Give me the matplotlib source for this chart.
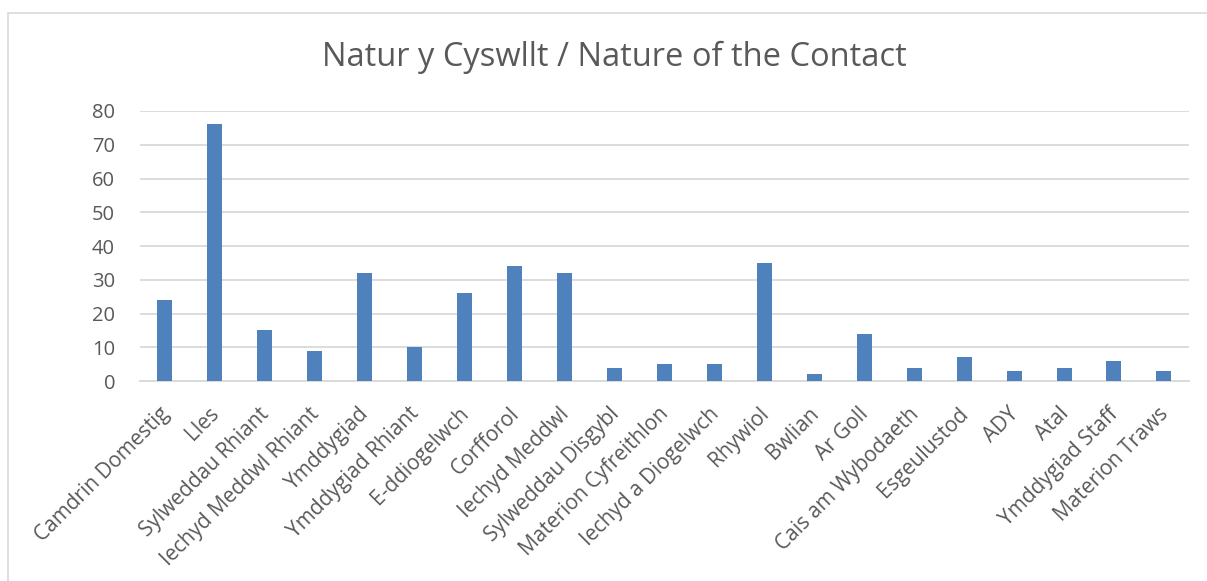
import matplotlib.pyplot as plt
import matplotlib.transforms as mtransforms
from matplotlib.patches import Rectangle

categories = ['Camdrin Domestig', 'Lles', 'Sylweddau Rhiant', 'Iechyd Meddwl Rhiant',
              'Ymddygiad', 'Ymddygiad Rhiant', 'E-ddiogelwch', 'Corfforol',
              'Iechyd Meddwl', 'Sylweddau Disgybl', 'Materion Cyfreithlon',
              'Iechyd a Diogelwch', 'Rhywiol', 'Bwlian', 'Ar Goll',
              'Cais am Wybodaeth', 'Esgeulustod', 'ADY', 'Atal',
              'Ymddygiad Staff', 'Materion Traws']
counts = [24, 76, 15, 9, 32, 10, 26, 34, 32, 4, 5, 5, 35, 2, 14, 4, 7, 3, 4, 6, 3]

plt.rcParams['font.family'] = ['Open Sans', 'DejaVu Sans']
text_col = '#595959'
grid_col = '#D9D9D9'

fig = plt.figure(figsize=(12.07, 5.81), dpi=100)
ax = fig.add_axes([0.116, 0.344, 0.869, 0.465])

# рамка области диаграммы
fig.patches.append(Rectangle((8 / 1207, -0.01), 1.02, 1 - 13 / 581 + 0.01,
                             transform=fig.transFigure, fill=False,
                             edgecolor=grid_col, linewidth=1.2))

x = range(len(categories))
ax.bar(x, counts, width=0.3, color='#4F81BD', zorder=3)

ax.set_xlim(-0.5, len(categories) - 0.5)
ax.set_ylim(0, 80)
ax.set_yticks(range(0, 81, 10))
ax.yaxis.grid(True, color=grid_col, linewidth=1.3, zorder=0)
ax.set_axisbelow(True)

for s in ['top', 'right', 'left']:
    ax.spines[s].set_visible(False)
ax.spines['bottom'].set_color(grid_col)
ax.spines['bottom'].set_linewidth(1.3)

ax.set_xticks(list(x))
ax.set_xticklabels(categories, rotation=45, ha='right', rotation_mode='anchor')
ax.tick_params(axis='both', length=0, labelsize=15, labelcolor=text_col)
ax.tick_params(axis='y', labelsize=14.5, pad=18)
ax.tick_params(axis='x', pad=16)

# небольшой сдвиг подписей влево
shift = mtransforms.ScaledTranslation(-6 / 100, 0, fig.dpi_scale_trans)
for lbl in ax.get_xticklabels():
    lbl.set_transform(lbl.get_transform() + shift)

fig.text(614 / 1207, 1 - 57 / 581, 'Natur y Cyswllt / Nature of the Contact',
         ha='center', va='center', fontsize=23.5, color=text_col)

fig.savefig('out.png', dpi=100)
